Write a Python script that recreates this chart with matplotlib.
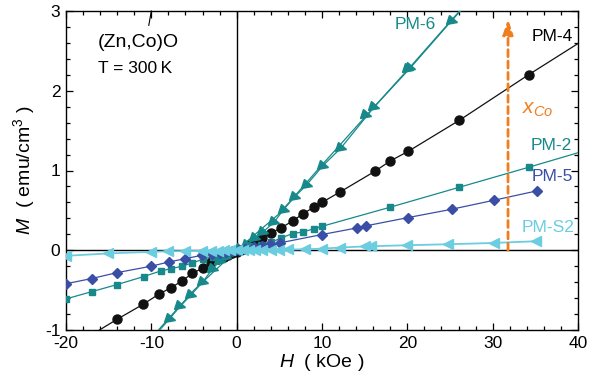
import matplotlib
matplotlib.use("Agg")
import matplotlib.pyplot as plt
from matplotlib.ticker import MultipleLocator
from matplotlib.markers import MarkerStyle
from matplotlib.transforms import Affine2D

plt.rcParams['font.family'] = ['Liberation Sans', 'DejaVu Sans']
plt.rcParams['mathtext.fontset'] = 'custom'
plt.rcParams['mathtext.it'] = 'Liberation Sans:italic'
plt.rcParams['mathtext.rm'] = 'Liberation Sans'
plt.rcParams['axes.unicode_minus'] = False

# ---- data ----
pm4_H = [-17, -14, -11, -9.1, -7.7, -6.4, -5.2, -3.9, -3.0, -2.2, -1.5, -1.0, -0.5, 0, 0.5,
         1.0, 1.5, 2.2, 3.0, 4.07, 5.2, 6.6, 7.8, 9.06, 10.0, 12.1, 16.2, 18.0, 20.1, 26.1, 34.2, 45]
pm4_M = [-1.06, -0.865, -0.68, -0.55, -0.47, -0.385, -0.29, -0.22, -0.15, -0.11, -0.08, -0.06, -0.04,
         -0.02, 0.0, 0.03, 0.06, 0.10, 0.15, 0.22, 0.28, 0.37, 0.46, 0.54, 0.60, 0.73, 0.99, 1.12,
         1.24, 1.63, 2.20, 2.93]

pm6_H = [30, 25.2, 20.3, 16.06, 12.2, 10.1, 8.2, 6.8, 5.5, 4.4, 3.1, 2.2, 1.2, 0.4, -0.5, -1.3,
         -2.0, -2.8, -4.0, -5.3, -6.6, -7.85, -10]
pm6_M = [3.45, 2.88, 2.28, 1.79, 1.28, 1.06, 0.82, 0.67, 0.51, 0.355, 0.23, 0.15, 0.07, 0.01, -0.04,
         -0.09, -0.14, -0.23, -0.40, -0.555, -0.70, -0.857, -1.12]
pm6b_H = [-10, -5.0, 0.0, 5.0, 10.0, 15.2, 20.1, 30]
pm6b_M = [-1.10, -0.50, 0.0, 0.46, 1.07, 1.69, 2.27, 3.47]

pm2_H = [-20, -17, -14, -10.9, -8.9, -7.65, -6.4, -5.2, -3.9, -2.8, -2.0, -1.2, -0.5, 0.3, 1.0,
         1.8, 2.8, 4.07, 5.2, 6.6, 7.8, 9.06, 10.0, 18.0, 26.1, 34.2, 45]
pm2_M = [-0.61, -0.52, -0.43, -0.33, -0.26, -0.23, -0.20, -0.16, -0.11, -0.08, -0.06, -0.04, -0.02,
         0.0, 0.02, 0.05, 0.07, 0.10, 0.155, 0.21, 0.23, 0.27, 0.30, 0.54, 0.79, 1.04, 1.38]

pm5_H = [-20, -17, -14, -10, -7.97, -6.0, -4.07, -2.9, -2.0, -1.2, -0.5, 0.3, 1.0, 2.0, 3.0, 3.95,
         5.04, 10.0, 14.1, 15.1, 20.1, 25.2, 30.15, 35.2]
pm5_M = [-0.42, -0.355, -0.28, -0.20, -0.147, -0.105, -0.063, -0.05, -0.035, -0.025, -0.01, 0.0,
         0.015, 0.035, 0.055, 0.075, 0.092, 0.197, 0.28, 0.305, 0.41, 0.514, 0.627, 0.745]

pms2_H = [-20, -15.1, -10, -8, -6.1, -4.1, -3, -2.2, -1.5, -0.8, 0, 0.8, 1.5, 2.2, 3, 4, 5, 6, 8,
          10, 12.07, 15.0, 15.8, 19.96, 24.8, 30.2, 35.1]
pms2_M = [-0.07, -0.04, -0.02, -0.013, -0.01, -0.008, -0.006, -0.004, -0.003, -0.002, 0.0, 0.002,
          0.003, 0.004, 0.005, 0.006, 0.008, 0.01, 0.012, 0.02, 0.034, 0.048, 0.05, 0.063, 0.075,
          0.092, 0.113]

xco_H = 31.8
xco_M = [0.0, 2.9]

x_ticks = [-20, -10, 0, 10, 20, 30, 40]
y_ticks = [-1, 0, 1, 2, 3]

# ---- colors ----
teal = '#17898a'
blue = '#3b4ea6'
cyan = '#6ccde0'
orange = '#f07d1e'

tri = MarkerStyle('>', transform=Affine2D().rotate_deg(-15))

fig = plt.figure(figsize=(5.98, 3.81), dpi=100)
ax = fig.add_axes([66/598, 1-330/381, (578-66)/598, (330-11)/381])
ax.set_xlim(-20, 40)
ax.set_ylim(-1, 3)

ax.axhline(0, color='black', lw=1.0, zorder=1)
ax.axvline(0, color='black', lw=1.0, zorder=1)

ax.plot(pm4_H, pm4_M, '-o', color='#111111', mfc='#111111', mec='#111111', ms=6.5, lw=0.9, zorder=3)
ax.plot(pm6b_H, pm6b_M, '-', color=teal, lw=0.9, marker=tri, ms=7,
        markevery=[5, 6], zorder=3)
ax.plot(pm6_H, pm6_M, '-', color=teal, lw=0.9, marker=tri, ms=7, zorder=3)
ax.plot(pm2_H, pm2_M, '-s', color=teal, ms=5, lw=0.9, zorder=4)
ax.plot(pm5_H, pm5_M, '-D', color=blue, ms=5, lw=0.9, zorder=5)
ax.plot(pms2_H, pms2_M, '-<', color=cyan, ms=7, lw=1.3, zorder=6)

# x_Co arrow
ax.annotate('', xy=(xco_H, xco_M[1]), xytext=(xco_H, xco_M[0]),
            arrowprops=dict(arrowstyle='-|>,head_length=0.9,head_width=0.3', color=orange,
                            lw=2.0, linestyle=(0, (2.5, 1.6)), shrinkA=0, shrinkB=0), zorder=7)

# labels in data
ax.text(18.5, 2.83, 'PM-6', color=teal, fontsize=12.5, ha='left', va='center')
ax.text(34.6, 2.68, 'PM-4', color='black', fontsize=12.5, ha='left', va='center')
ax.text(33.4, 1.77, r'$x_{Co}$', color=orange, fontsize=15, ha='left', va='center')
ax.text(34.4, 1.31, 'PM-2', color=teal, fontsize=12.5, ha='left', va='center')
ax.text(34.6, 0.93, 'PM-5', color=blue, fontsize=12.5, ha='left', va='center')
ax.text(33.4, 0.29, 'PM-S2', color=cyan, fontsize=12.5, ha='left', va='center')

ax.text(-16.3, 2.61, '(Zn,Co)O', color='black', fontsize=14, ha='left', va='center')
ax.text(-16.3, 2.28, 'T = 300\u2009K', color='black', fontsize=12.5, ha='left', va='center')
ax.plot([-10.0, -10.3], [3.0, 2.82], color='black', lw=0.8, clip_on=False)

# ticks
ax.set_xticks(x_ticks)
ax.set_yticks(y_ticks)
ax.xaxis.set_minor_locator(MultipleLocator(2))
ax.yaxis.set_minor_locator(MultipleLocator(0.2))
ax.tick_params(which='both', direction='in', top=True, right=True, labelsize=12.5, width=0.9)
ax.tick_params(which='major', length=5, pad=4)
ax.tick_params(which='minor', length=3)
for s in ax.spines.values():
    s.set_linewidth(1.0)

ax.set_xlabel(r'$H$  ( kOe )', fontsize=14, labelpad=1)
ax.set_ylabel(r'$M$  ( emu/cm$^3$ )', fontsize=14, labelpad=6)

fig.savefig('out.png', dpi=100)
